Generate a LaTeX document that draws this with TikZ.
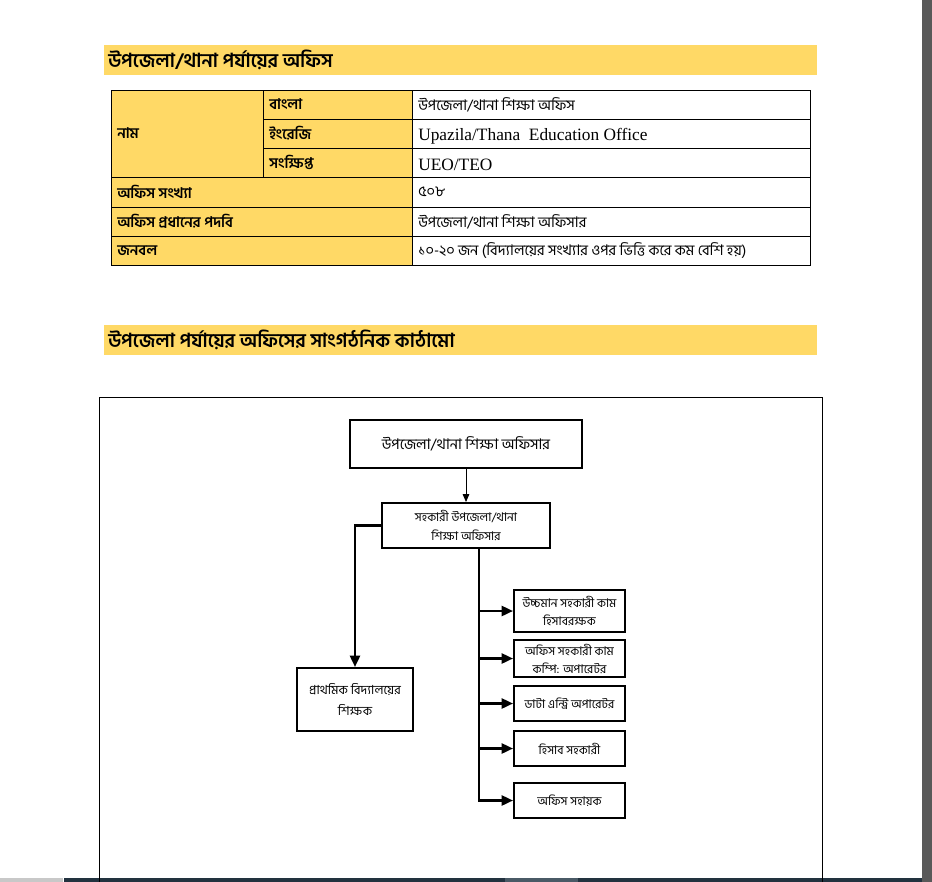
\documentclass[tikz,border=0pt]{standalone}
\usepackage{fontspec}
\setmainfont{Liberation Serif}
\newfontfamily\bn[Script=Bengali]{Hind Siliguri}
\usetikzlibrary{arrows.meta}
\definecolor{headYellow}{HTML}{FFD966}
\definecolor{sideGrey}{HTML}{595959}
\definecolor{barDark}{HTML}{22323F}
\definecolor{barMid}{HTML}{4A5A66}
\definecolor{barLight}{HTML}{C8C8C8}

\begin{document}
\begin{tikzpicture}[x=0.75pt, y=-0.75pt,
  headtext/.style={anchor=west, font=\bn\bfseries\fontsize{14.5}{16}\selectfont, inner sep=0pt},
  celllabel/.style={anchor=west, font=\bn\bfseries\fontsize{11}{12}\selectfont, inner sep=0pt},
  cellvalue/.style={anchor=west, font=\bn\fontsize{11}{12}\selectfont, inner sep=0pt},
  cellenglish/.style={anchor=west, font=\fontsize{13}{15}\selectfont, inner sep=0pt},
  orgbox/.style={draw, line width=1.5pt, align=center, inner sep=1pt,
    font=\bn\fontsize{9}{13.5}\selectfont},
  sidebox/.style={orgbox, minimum width=83.25pt},
  branch/.style={line width=1.8pt, -{Triangle[length=8.5pt, width=7.5pt]}}]
  \useasboundingbox (0,0) rectangle (932,882);
  \fill[white] (0,0) rectangle (932,882);

  % window edges
  \fill[sideGrey] (922,0) rectangle (932,882);
  \fill[barLight] (0,878) rectangle (63,882);
  \fill[barDark] (64,878) rectangle (922,882);
  \fill[barMid] (505,878) rectangle (578,882);

  % heading 1
  \fill[headYellow] (104,45) rectangle (817,75);
  \node[headtext] (headOffice) at (108,60) {উপজেলা/থানা পর্যায়ের অফিস};

  % table
  \fill[headYellow] (111,90) rectangle (412,265);
  \draw[line width=0.6pt] (111,90) rectangle (810,265);
  \draw[line width=0.6pt] (263,90) -- (263,177);
  \draw[line width=0.6pt] (412,90) -- (412,265);
  \foreach \y in {119,148} \draw[line width=0.6pt] (263,\y) -- (810,\y);
  \foreach \y in {177,207,236} \draw[line width=0.6pt] (111,\y) -- (810,\y);

  \node[celllabel] (lblName) at (117,133.5) {নাম};
  \node[celllabel] (lblBangla) at (269,104.5) {বাংলা};
  \node[celllabel] (lblEnglish) at (269,133.5) {ইংরেজি};
  \node[celllabel] (lblShort) at (269,162.5) {সংক্ষিপ্ত};
  \node[celllabel] (lblCount) at (117,192) {অফিস সংখ্যা};
  \node[celllabel] (lblHead) at (117,221.5) {অফিস প্রধানের পদবি};
  \node[celllabel] (lblStaff) at (117,250.5) {জনবল};

  \node[cellvalue] (valBangla) at (418,104.5) {উপজেলা/থানা শিক্ষা অফিস};
  \node[cellenglish] (valEnglish) at (418,136) {Upazila/Thana\ \ Education Office};
  \node[cellenglish] (valShort) at (418,165) {UEO/TEO};
  \node[cellvalue] (valCount) at (418,192) {৫০৮};
  \node[cellvalue] (valHead) at (418,221.5) {উপজেলা/থানা শিক্ষা অফিসার};
  \node[cellvalue] (valStaff) at (418,250.5) {১০-২০ জন (বিদ্যালয়ের সংখ্যার ওপর ভিত্তি করে কম বেশি হয়)};

  % heading 2
  \fill[headYellow] (104,325) rectangle (817,355);
  \node[headtext] (headChart) at (108,340) {উপজেলা পর্যায়ের অফিসের সাংগঠনিক কাঠামো};

  % chart frame
  \draw[line width=0.6pt] (99,884) -- (99,397) -- (822,397) -- (822,884);

  % boxes
  \node[orgbox, minimum width=174pt, minimum height=36pt,
    font=\bn\fontsize{11}{13}\selectfont] (ueo) at (466,444) {উপজেলা/থানা শিক্ষা অফিসার};
  \node[orgbox, minimum width=126pt, minimum height=33.75pt,
    font=\bn\fontsize{9}{14}\selectfont] (aueo) at (466,525.5)
    {সহকারী উপজেলা/থানা\\শিক্ষা অফিসার};
  \node[orgbox, minimum width=87pt, minimum height=47.25pt,
    font=\bn\fontsize{9.4}{16}\selectfont] (teacher) at (355,699.5)
    {প্রাথমিক বিদ্যালয়ের\\শিক্ষক};
  \node[sidebox, minimum height=31.5pt] (accountant) at (569.5,611)
    {উচ্চমান সহকারী কাম\\হিসাবরক্ষক};
  \node[sidebox, minimum height=27.75pt] (operator) at (569.5,658.5)
    {অফিস সহকারী কাম\\কম্পি: অপারেটর};
  \node[sidebox, minimum height=26.25pt] (dataentry) at (569.5,703.5) {ডাটা এন্ট্রি অপারেটর};
  \node[sidebox, minimum height=26.25pt] (accounts) at (569.5,748.5) {হিসাব সহকারী};
  \node[sidebox, minimum height=26.25pt] (support) at (569.5,800.5) {অফিস সহায়ক};

  % connectors
  \draw[line width=0.6pt, -{Triangle[length=6pt, width=5pt]}] (ueo) -- (aueo);
  \draw[branch] (aueo.west) -| (teacher.north);
  \coordinate (trunk) at (479,548);
  \draw[branch] (trunk) |- (support.west);
  \foreach \b in {accountant,operator,dataentry,accounts}
    \draw[branch] (trunk |- \b.west) -- (\b.west);
\end{tikzpicture}
\end{document}
